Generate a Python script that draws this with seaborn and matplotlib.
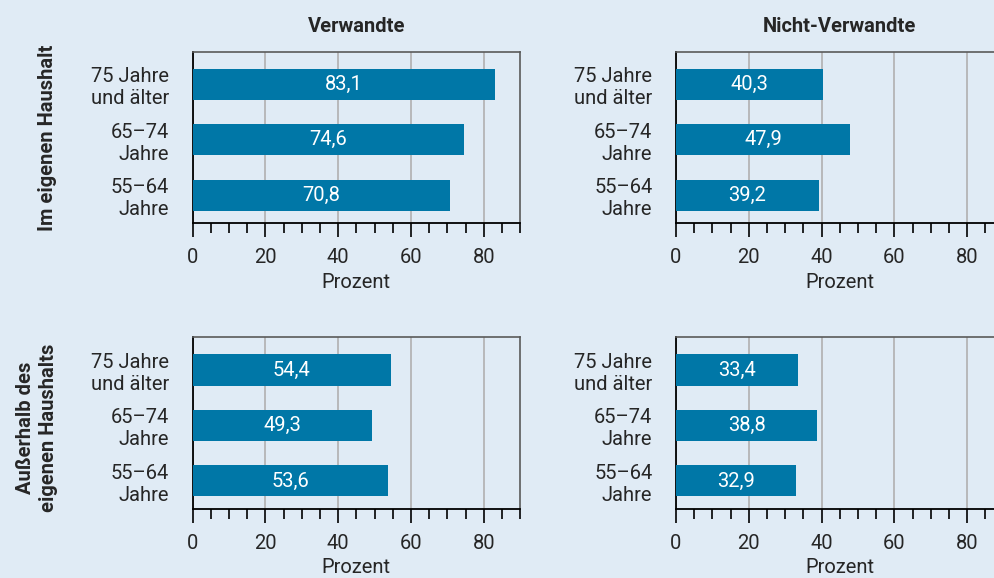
"""Haushaltshilfe nach Altersgruppe: Verwandte vs. Nicht-Verwandte, im und ausserhalb des Haushalts."""
import matplotlib.pyplot as plt
import matplotlib.ticker as mticker
import pandas as pd
import seaborn as sns

ALTER = ["75 Jahre\nund älter", "65–74\nJahre", "55–64\nJahre"]
GRUPPEN = ["Verwandte", "Nicht-Verwandte"]
ORTE = ["Im eigenen Haushalt", "Außerhalb des\neigenen Haushalts"]

# Werte je Ort (Zeile) und Gruppe (Spalte), Reihenfolge wie ALTER
im_haushalt_verwandte = [83.1, 74.6, 70.8]
im_haushalt_nicht_verwandte = [40.3, 47.9, 39.2]
ausser_haushalt_verwandte = [54.4, 49.3, 53.6]
ausser_haushalt_nicht_verwandte = [33.4, 38.8, 32.9]

BG = "#e0ebf5"
BAR = "#0077a7"
FS = 14.5

sns.set_style("ticks", {"axes.facecolor": BG, "figure.facecolor": BG})
plt.rcParams["font.family"] = ["Roboto", "DejaVu Sans"]
plt.rcParams["font.size"] = FS

rows = []
for ort, werte_v, werte_n in [
    (ORTE[0], im_haushalt_verwandte, im_haushalt_nicht_verwandte),
    (ORTE[1], ausser_haushalt_verwandte, ausser_haushalt_nicht_verwandte),
]:
    for gruppe, werte in zip(GRUPPEN, [werte_v, werte_n]):
        for alter, w in zip(ALTER, werte):
            rows.append({"ort": ort, "gruppe": gruppe, "alter": alter, "wert": w})
df = pd.DataFrame(rows)

fig = plt.figure(figsize=(9.95, 5.78), dpi=100)
lefts = [0.1935, 0.6794]
bottoms = [0.6142, 0.1200]
width, height = 0.3293, 0.2965

for r, ort in enumerate(ORTE):
    for c, gruppe in enumerate(GRUPPEN):
        ax = fig.add_axes([lefts[c], bottoms[r], width, height])
        sub = df[(df["ort"] == ort) & (df["gruppe"] == gruppe)]
        sns.barplot(data=sub, x="wert", y="alter", order=ALTER, color=BAR,
                    saturation=1, width=0.56, linewidth=0, ax=ax, zorder=3)
        ax.bar_label(ax.containers[0], labels=[f"{v:.1f}".replace(".", ",") for v in sub["wert"]],
                     label_type="center", color="white", fontsize=FS)
        ax.set_xlim(0, 90)
        ax.set_ylim(2.5, -0.59)
        ax.xaxis.set_major_locator(mticker.MultipleLocator(20))
        ax.xaxis.set_minor_locator(mticker.MultipleLocator(5))
        ax.tick_params(axis="x", which="major", length=10, width=1.2, color="black", pad=8, labelsize=FS)
        ax.tick_params(axis="x", which="minor", length=7, width=1.2, color="black")
        ax.tick_params(axis="y", length=0, pad=17, labelsize=FS)
        ax.grid(axis="x", which="major", color="#b0b0b0", linewidth=1.2, zorder=0)
        ax.set_axisbelow(True)
        for side in ["left", "bottom"]:
            ax.spines[side].set_color("black")
            ax.spines[side].set_linewidth(1.3)
        for side in ["top", "right"]:
            ax.spines[side].set_visible(True)
            ax.spines[side].set_color("#5a5a5a")
            ax.spines[side].set_linewidth(1.2)
        ax.set_xlabel("Prozent", fontsize=FS, labelpad=4)
        ax.set_ylabel("")
        if r == 0:
            ax.set_title(gruppe, fontweight="bold", fontsize=FS, pad=14)

fig.text(0.048, 0.762, ORTE[0], rotation=90, ha="center", va="center",
         fontweight="bold", fontsize=FS)
fig.text(0.037, 0.26, ORTE[1], rotation=90, ha="center", va="center",
         fontweight="bold", fontsize=FS, linespacing=1.3)

fig.savefig("out.png", dpi=100, facecolor=BG)
